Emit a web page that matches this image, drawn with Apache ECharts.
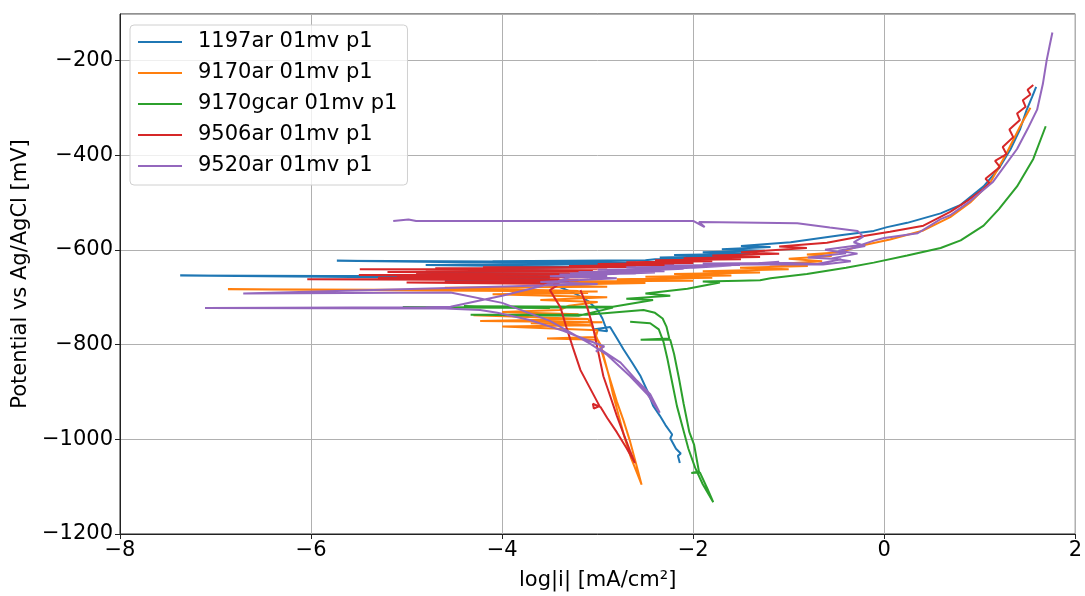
<!DOCTYPE html>
<html>
<head>
<meta charset="utf-8">
<script src="https://cdn.jsdelivr.net/npm/echarts@6/dist/echarts.min.js"></script>
<style>
  html, body { margin: 0; padding: 0; background: #fff; }
  #chart { width: 1085px; height: 596px; }
</style>
</head>
<body>
<div id="chart"></div>
<script>
// Tafel curves, [log|i| (mA/cm2), potential (mV vs Ag/AgCl)] in scan order
const seriesNames = ["1197ar 01mv p1", "9170ar 01mv p1", "9170gcar 01mv p1", "9506ar 01mv p1", "9520ar 01mv p1"];

const ar1197 = [
  [-2.14, -1050], [-2.16, -1035], [-2.13, -1030], [-2.18, -1020], [-2.24, -998], [-2.22, -990],
  [-2.29, -970], [-2.35, -950], [-2.42, -929], [-2.48, -898], [-2.55, -867], [-2.64, -838],
  [-2.73, -810], [-2.80, -786], [-2.87, -763], [-3.05, -768], [-2.90, -772], [-2.95, -745],
  [-3.00, -727], [-3.10, -708], [-3.22, -694], [-3.39, -679], [-3.60, -670], [-4.60, -664],
  [-3.50, -661], [-7.37, -654], [-5.82, -655], [-3.45, -656], [-6.10, -657], [-3.40, -652],
  [-4.90, -648], [-3.30, -645], [-4.20, -640], [-3.10, -636], [-4.80, -632], [-2.90, -630],
  [-5.73, -623], [-3.50, -625], [-4.60, -626], [-2.60, -627], [-4.10, -624], [-2.50, -622],
  [-2.40, -620], [-1.90, -618], [-2.35, -616], [-1.60, -613], [-2.20, -611], [-1.40, -608],
  [-1.90, -605], [-1.25, -602], [-1.70, -599], [-1.19, -594], [-1.50, -592], [-0.98, -584],
  [-0.46, -569], [-0.11, -560], [0.03, -552], [0.24, -543], [0.59, -523], [0.80, -505],
  [1.04, -466], [1.20, -428], [1.32, -388], [1.42, -346], [1.49, -305], [1.55, -276], [1.59, -256]
];

const ar9170 = [
  [-3.10, -745], [-3.04, -770], [-2.98, -800], [-2.92, -840], [-2.86, -880], [-2.80, -920],
  [-2.73, -960], [-2.66, -1005], [-2.60, -1050], [-2.54, -1096], [-2.58, -1075], [-2.65, -1040],
  [-2.72, -995], [-2.78, -950], [-2.84, -905], [-2.88, -868], [-2.93, -830], [-2.97, -800],
  [-3.00, -790], [-3.53, -787], [-3.02, -784], [-3.00, -770], [-4.00, -762], [-3.05, -759],
  [-3.70, -755], [-2.95, -753], [-4.23, -750], [-3.10, -746], [-4.30, -738], [-3.20, -736],
  [-4.00, -731], [-3.40, -727], [-3.30, -718], [-3.00, -710], [-3.60, -706], [-2.90, -700],
  [-4.10, -694], [-3.10, -691], [-3.90, -689], [-3.00, -688], [-6.87, -683], [-4.40, -685],
  [-3.20, -687], [-4.60, -680], [-2.90, -678], [-3.60, -674], [-2.50, -670], [-3.50, -667],
  [-2.00, -665], [-2.80, -662], [-1.80, -659], [-2.50, -657], [-1.60, -654], [-2.20, -651],
  [-1.30, -648], [-1.90, -645], [-1.00, -641], [-1.51, -638], [-0.80, -634], [-1.20, -631],
  [-0.65, -624], [-1.00, -619], [-0.55, -613], [-0.81, -610], [-0.46, -605], [-0.28, -593],
  [0.06, -578], [0.41, -559], [0.69, -531], [0.90, -500], [1.11, -458], [1.28, -396],
  [1.42, -340], [1.53, -300]
];

const gcar9170 = [
  [-2.66, -752], [-2.45, -755], [-2.36, -768], [-2.31, -795], [-2.27, -830], [-2.22, -880],
  [-2.17, -930], [-2.11, -975], [-2.05, -1020], [-1.98, -1060], [-1.90, -1095], [-1.79, -1133],
  [-1.85, -1105], [-1.93, -1070], [-2.02, -1071], [-1.94, -1068], [-1.99, -1012], [-2.04, -985],
  [-2.10, -925], [-2.15, -870], [-2.20, -820], [-2.24, -790], [-2.55, -790], [-2.25, -787],
  [-2.28, -762], [-2.32, -745], [-2.40, -733], [-2.52, -727], [-3.12, -737], [-4.33, -737],
  [-3.20, -739], [-2.84, -722], [-5.04, -721], [-3.50, -723], [-4.40, -719], [-2.84, -720],
  [-2.42, -706], [-2.70, -703], [-2.24, -697], [-2.50, -692], [-2.06, -682], [-1.72, -669],
  [-1.90, -667], [-1.51, -665], [-1.30, -664], [-1.19, -660], [-0.81, -651], [-0.40, -638],
  [-0.11, -627], [0.24, -612], [0.59, -596], [0.80, -580], [1.04, -549], [1.20, -514],
  [1.39, -466], [1.56, -408], [1.69, -339]
];

const ar9506 = [
  [-3.18, -685], [-3.11, -721], [-3.05, -762], [-3.00, -810], [-2.94, -867], [-2.87, -908],
  [-2.80, -950], [-2.73, -988], [-2.66, -1025], [-2.61, -1050], [-2.70, -1018], [-2.80, -985],
  [-2.90, -955], [-2.97, -932], [-3.05, -925], [-3.04, -935], [-2.98, -930], [-3.08, -892],
  [-3.18, -854], [-3.26, -806], [-3.33, -762], [-3.39, -721], [-3.50, -685], [-3.40, -672],
  [-5.00, -669], [-3.30, -667], [-4.60, -666], [-3.20, -664], [-6.04, -662], [-3.40, -661],
  [-5.30, -659], [-3.10, -658], [-5.10, -656], [-3.20, -655], [-5.50, -653], [-3.00, -652],
  [-4.90, -650], [-3.10, -649], [-5.20, -647], [-2.95, -646], [-4.80, -644], [-3.05, -643],
  [-5.49, -641], [-3.00, -640], [-4.70, -639], [-2.90, -638], [-4.20, -637], [-2.60, -636],
  [-3.30, -634], [-2.20, -632], [-3.00, -630], [-2.00, -628], [-2.70, -626], [-1.80, -624],
  [-2.40, -622], [-1.50, -620], [-2.10, -618], [-1.30, -615], [-1.80, -612], [-1.10, -608],
  [-1.50, -605], [-0.81, -596], [-1.10, -593], [-0.60, -585], [-0.28, -573], [0.06, -562],
  [0.41, -549], [0.69, -520], [0.88, -495], [1.04, -471], [1.10, -458], [1.06, -450],
  [1.21, -425], [1.16, -412], [1.28, -398], [1.24, -383], [1.35, -362], [1.31, -346],
  [1.42, -326], [1.39, -312], [1.48, -298], [1.45, -284], [1.53, -272], [1.50, -262], [1.56, -252]
];

const ar9520 = [
  [-5.14, -539], [-4.98, -536], [-4.90, -539], [-3.50, -539], [-2.00, -539], [-1.88, -552],
  [-1.94, -541], [-1.51, -542], [-0.91, -544], [-0.57, -553], [-0.28, -560], [-0.22, -572],
  [-0.32, -584], [-0.20, -592], [-0.48, -602], [-0.28, -608], [-0.55, -618], [-0.35, -624],
  [-0.64, -631], [-1.51, -631], [-1.10, -625], [-2.00, -638], [-1.60, -633], [-2.60, -644],
  [-2.10, -640], [-3.29, -650], [-2.40, -648], [-3.50, -656], [-2.80, -660], [-3.60, -668],
  [-3.00, -672], [-6.71, -692], [-4.54, -690], [-4.00, -712], [-3.50, -750], [-3.08, -798],
  [-2.90, -822], [-2.66, -867], [-2.48, -905], [-2.38, -935], [-2.35, -944], [-2.45, -905],
  [-2.59, -876], [-2.76, -838], [-2.97, -810], [-3.02, -815], [-2.93, -804], [-3.18, -785],
  [-3.36, -771], [-3.71, -748], [-4.05, -733], [-4.23, -727], [-4.60, -724], [-7.11, -723],
  [-4.80, -721], [-4.54, -720], [-4.00, -697], [-3.50, -672], [-3.29, -658], [-2.90, -655],
  [-3.40, -652], [-2.60, -650], [-3.20, -647], [-2.30, -645], [-3.00, -642], [-2.10, -640],
  [-2.70, -637], [-1.80, -635], [-2.30, -633], [-1.51, -632], [-1.90, -629], [-1.00, -628],
  [-0.70, -630], [-0.45, -620], [-0.80, -616], [-0.40, -607], [-0.62, -600], [-0.25, -590],
  [-0.10, -580], [0.00, -575], [0.35, -565], [0.59, -535], [0.69, -527], [0.90, -497],
  [1.14, -456], [1.39, -387], [1.50, -345], [1.60, -304], [1.66, -250], [1.70, -200],
  [1.73, -170], [1.76, -141]
];

const curves = [ar1197, ar9170, gcar9170, ar9506, ar9520];
const colors = ["#1f77b4", "#ff7f0e", "#2ca02c", "#d62728", "#9467bd"];

const chart = echarts.init(document.getElementById("chart"), null, { renderer: "canvas" });

const minus = (v) => String(v).replace("-", "\u2212");
const font = "DejaVu Sans";

const option = {
  backgroundColor: "#fff",
  animation: false,
  textStyle: { fontFamily: font },
  grid: {
    left: 120, right: 9, top: 14, bottom: 57,
    show: true, borderColor: "#222", borderWidth: 1, backgroundColor: "transparent"
  },
  legend: {
    orient: "vertical",
    left: 130, top: 25,
    padding: [6, 10, 8, 8],
    itemWidth: 44, itemHeight: 2, itemGap: 9,
    icon: "rect",
    borderColor: "#d0d0d0", borderWidth: 1, borderRadius: 4,
    backgroundColor: "rgba(255,255,255,0.8)",
    textStyle: { fontFamily: font, fontSize: 21, color: "#000", lineHeight: 22, padding: [0, 0, 0, 11] },
    data: seriesNames
  },
  xAxis: {
    type: "value",
    min: -8, max: 2, interval: 2,
    name: "log|i| [mA/cm\u00b2]",
    nameLocation: "middle", nameGap: 36,
    nameTextStyle: { fontFamily: font, fontSize: 21, color: "#000" },
    axisLine: { show: true, onZero: false, lineStyle: { color: "#222", width: 1 } },
    axisTick: { show: true, inside: false, length: 5, lineStyle: { color: "#222" } },
    axisLabel: { fontFamily: font, fontSize: 21, color: "#000", margin: 6, formatter: minus },
    splitLine: { show: true, lineStyle: { color: "#b0b0b0", width: 1 } }
  },
  yAxis: {
    type: "value",
    min: -1200, max: -102, interval: 200,
    name: "Potential vs Ag/AgCl [mV]",
    nameLocation: "middle", nameGap: 86,
    nameTextStyle: { fontFamily: font, fontSize: 21, color: "#000" },
    axisLine: { show: true, onZero: false, lineStyle: { color: "#222", width: 1 } },
    axisTick: { show: true, inside: false, length: 5, lineStyle: { color: "#222" } },
    axisLabel: { fontFamily: font, fontSize: 21, color: "#000", margin: 7, showMaxLabel: false, formatter: minus },
    splitLine: { show: true, lineStyle: { color: "#b0b0b0", width: 1 } }
  },
  series: curves.map((d, i) => ({
    name: seriesNames[i],
    type: "line",
    data: d,
    showSymbol: false,
    symbol: "none",
    color: colors[i],
    lineStyle: { color: colors[i], width: 2 },
    emphasis: { disabled: true }
  }))
};

chart.setOption(option);
</script>
</body>
</html>
